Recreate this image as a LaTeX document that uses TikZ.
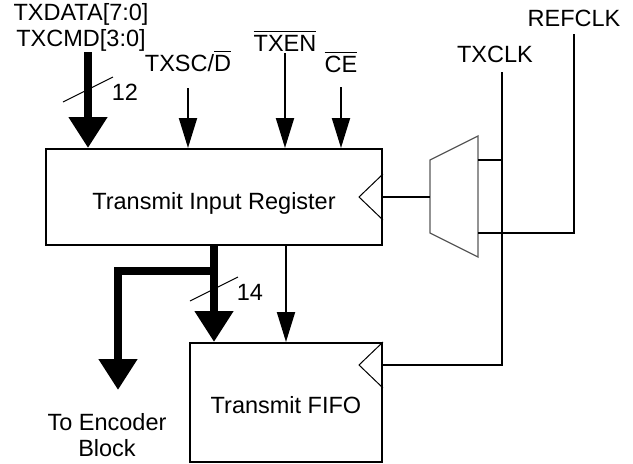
\documentclass[tikz,border=0pt]{standalone}
\usepackage{amsmath}
\usepackage{fontspec}
\setmainfont{Liberation Sans}
\usepackage{tikz}
\usetikzlibrary{arrows.meta}
\usetikzlibrary{positioning}

\newcommand{\ovl}[1]{$\overline{\mbox{#1}}$}

\begin{document}
\begin{tikzpicture}
	[x=1pt, y=-1pt, line width=2pt, font=\fontsize{23.5}{26}\selectfont,
	block/.style = {draw, line width=2pt, text depth=0pt},
	lbl/.style = {inner sep=0pt, text depth=0pt, align=center},
	sig/.style = {-{Triangle[width=18pt, length=30pt]}},
	bus/.style = {line width=8pt, -{Triangle[width=37pt, length=31pt]}},
	mux/.style = {draw=black!65, line width=1.3pt},
	thinline/.style = {line width=1pt}]
	\useasboundingbox (0,0) rectangle (633,464);
	\node[block, minimum width=336pt, minimum height=96pt, text height=25pt] (reg) at (214,197) {Transmit Input Register};
	\node[block, minimum width=192pt, minimum height=119pt, text height=22pt] (fifo) at (286,402.5) {Transmit FIFO};
	\coordinate (busin) at (88,52);
	\coordinate (txscin) at (188,88);
	\coordinate (txenin) at (285,53);
	\coordinate (cein) at (341,87);
	\coordinate (txclkin) at (502,72);
	\coordinate (refclkin) at (574,34);
	\coordinate (muxout) at (430,197);
	\coordinate (muxa) at (478,160);
	\coordinate (muxb) at (478,233);
	\coordinate (split) at (214,271);
	\coordinate (enc) at (118,390);
	\coordinate (fifoclk) at ([yshift=-23pt]fifo.north east);
	\node[lbl, above=5pt of busin, xshift=-7pt] (txdata) {TXDATA[7:0]\\TXCMD[3:0]};
	\node[lbl, above=16pt of txscin] (txsc) {TXSC/\ovl{D}};
	\node[lbl, above=1pt of txenin] (txen) {\ovl{TXEN}};
	\node[lbl, above=14pt of cein] (ce) {\ovl{CE}};
	\node[lbl, above=9pt of txclkin, xshift=-7pt] (txclk) {TXCLK};
	\node[lbl, above=7pt of refclkin] (refclk) {REFCLK};
	\node[lbl, below=22pt of enc, xshift=-11pt] (enctxt) {To Encoder\\Block};
	\node[lbl] (w12) at (125,92) {12};
	\node[lbl] (w14) at (250,292) {14};
	\draw[mux] (430,160) -- (478,136) -- (478,257) -- (430,233) -- cycle;
	\draw[bus] (busin) -- (busin |- reg.north);
	\draw[thinline] (63,102) -- (113,77);
	\draw[sig] (txscin) -- (txscin |- reg.north);
	\draw[sig] (txenin) -- (txenin |- reg.north);
	\draw[sig] (cein) -- (cein |- reg.north);
	\draw[thinline] (reg.east) ++(0,-23) -- ++(-24,23) -- ++(24,23);
	\draw (reg.east) -- (muxout);
	\draw (txclkin |- muxa) -- (muxa);
	\draw (refclkin) |- (muxb);
	\draw (txclkin) |- (fifoclk);
	\draw[thinline] (fifo.north east) -- ++(-24,23) -- ++(24,23);
	\draw[bus] (reg.south) -- (reg.south |- fifo.north);
	\draw[bus] (split) -| (enc);
	\draw[thinline] (190,301) -- (238,277);
	\draw[sig] (reg.south -| fifo.north) -- (fifo.north);
\end{tikzpicture}
\end{document}
